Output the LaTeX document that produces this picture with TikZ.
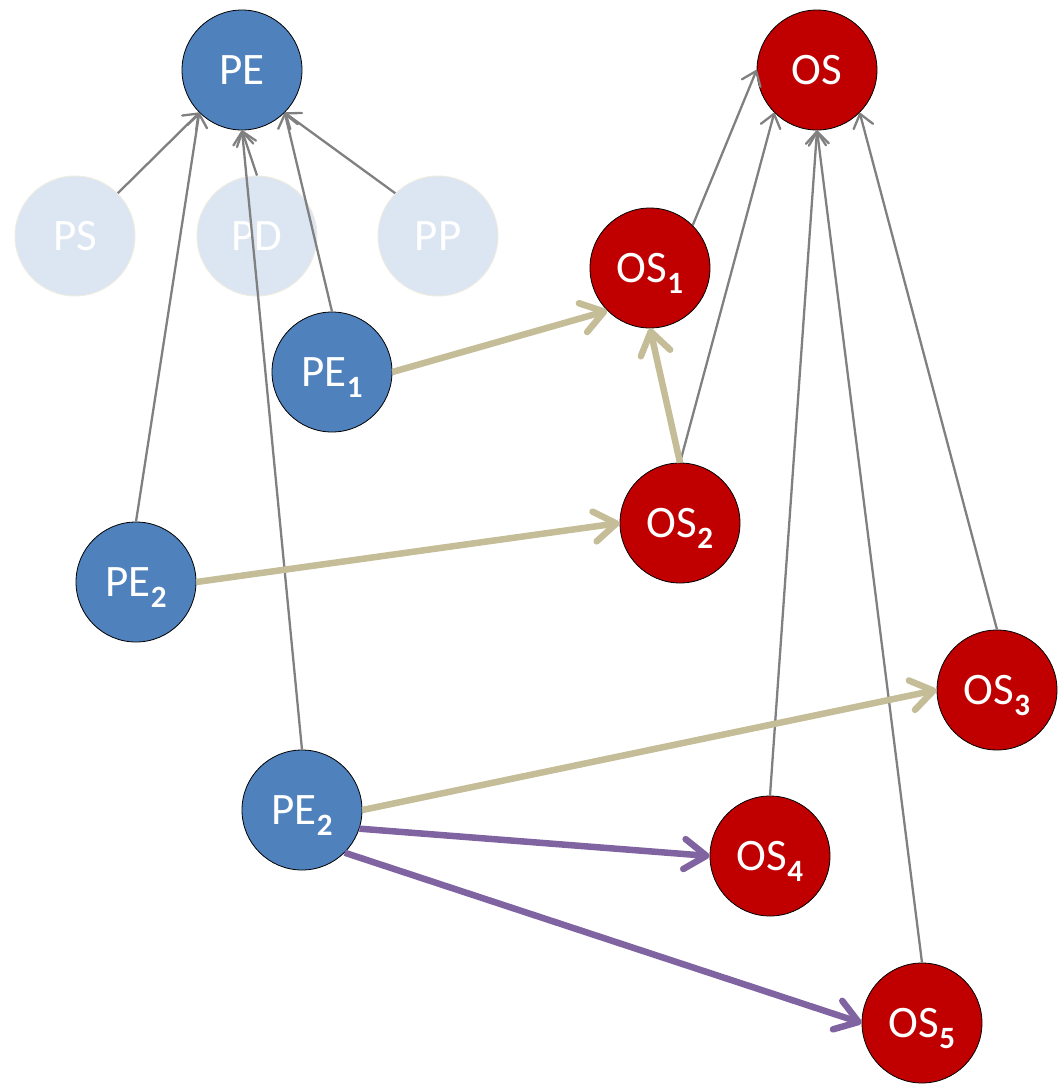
\documentclass[tikz,border=0pt]{standalone}
\usepackage{fontspec}
\setmainfont{Carlito}
\usetikzlibrary{arrows.meta}
\definecolor{peblue}{HTML}{4F81BD}
\definecolor{osred}{HTML}{C00000}
\definecolor{faintfill}{HTML}{DCE6F2}
\definecolor{faintline}{HTML}{EEECE1}
\definecolor{connline}{HTML}{808080}
\definecolor{tanline}{HTML}{C4BD97}
\definecolor{purpline}{HTML}{8064A2}
\newcommand\subidx[1]{\raisebox{-0.25em}[0pt][0pt]{\fontsize{31}{32}\selectfont\bfseries #1}}
\begin{document}
\begin{tikzpicture}[x=1pt,y=-1pt,
  circnode/.style={circle, minimum size=120pt, inner sep=0pt, text=white, font=\fontsize{45}{48}\selectfont},
  penode/.style={circnode, fill=peblue, draw=black, line width=0.8pt},
  osnode/.style={circnode, fill=osred, draw=black, line width=0.8pt},
  ghostnode/.style={circnode, fill=faintfill, draw=faintline, line width=1pt},
  isa/.style={draw=connline, line width=2.3pt, -{Straight Barb[round,length=13pt,width=20pt]}},
  flow/.style={draw=tanline, line width=6.5pt, -{Straight Barb[round,length=22pt,width=30pt]}},
  link/.style={draw=purpline, line width=6.5pt, -{Straight Barb[round,length=22pt,width=30pt]}}]
\path[use as bounding box] (0,0) rectangle (1058,1088);
% faint nodes
\node[ghostnode] (ps) at (75,236) {PS};
\node[ghostnode] (pd) at (257,236) {PD};
\node[ghostnode] (pp) at (438,236) {PP};
% main nodes
\node[penode] (pe) at (242,70) {PE};
\node[penode] (pe1) at (332,372) {PE\subidx{1}};
\node[penode] (pe2a) at (136,582) {PE\subidx{2}};
\node[penode] (pe2b) at (302,810) {PE\subidx{2}};
\node[osnode] (os) at (817,70) {OS};
\node[osnode] (os1) at (650,268) {OS\subidx{1}};
\node[osnode] (os2) at (680,523) {OS\subidx{2}};
\node[osnode] (os3) at (997,690) {OS\subidx{3}};
\node[osnode] (os4) at (770,856) {OS\subidx{4}};
\node[osnode] (os5) at (922,1023) {OS\subidx{5}};
% gray generalisation lines
\draw[isa] (ps.north east) -- (pe.south west);
\draw[isa] (pe2a.north) -- (pe.south west);
\draw[isa] (pd.north) -- (pe.south);
\draw[isa] (pe2b.north) -- (pe.south);
\draw[isa] (pe1.north) -- (pe.south east);
\draw[isa] (pp.north west) -- (pe.south east);
\draw[isa] (os1.north east) -- (os.west);
\draw[isa] (os2.north) -- (os.south west);
\draw[isa] (os4.north) -- (os.south);
\draw[isa] (os5.north) -- (os.south);
\draw[isa] (os3.north) -- (os.south east);
% thick arrows
\draw[flow] (pe1.east) -- (os1.south west);
\draw[flow] (os2.north) -- (os1.south);
\draw[flow] (pe2a.east) -- (os2.west);
\draw[flow] (pe2b.east) -- (os3.west);
\draw[link] (pe2b.-18) -- (os4.west);
\draw[link] (pe2b.south east) -- (os5.west);
\end{tikzpicture}
\end{document}
